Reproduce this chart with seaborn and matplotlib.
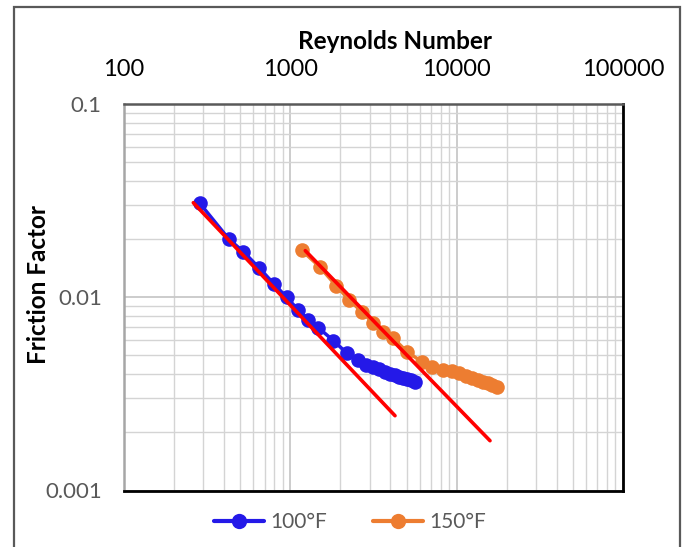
import numpy as np
import pandas as pd
import matplotlib
matplotlib.use("Agg")
import matplotlib.pyplot as plt
from matplotlib.ticker import FixedLocator, FixedFormatter, NullFormatter
from matplotlib.lines import Line2D
from matplotlib.patches import Rectangle
import seaborn as sns

# ---------------- data ----------------
re_100 = [286, 428, 522, 648, 801, 951, 1117, 1283, 1473, 1813, 2191, 2552,
          2851, 3141, 3413, 3709, 3974, 4259, 4501, 4757, 5028, 5314, 5616]
f_100 = [0.0306, 0.01995, 0.01721, 0.01422, 0.01167, 0.00999, 0.00859, 0.00762,
         0.00696, 0.00597, 0.00513, 0.00471, 0.00447, 0.00436, 0.00425, 0.00411,
         0.00403, 0.00394, 0.00388, 0.00381, 0.00376, 0.00371, 0.00366]

re_150 = [1175, 1498, 1882, 2253, 2686, 3141, 3622, 4160, 5028, 6164, 7079, 8312,
          9376, 10330, 11381, 12369, 13439, 14400, 15432, 16315, 17403]
f_150 = [0.01746, 0.01439, 0.0115, 0.00971, 0.00842, 0.00739, 0.00663, 0.00613,
         0.00523, 0.00464, 0.00437, 0.0042, 0.00416, 0.00404, 0.00392, 0.00382,
         0.00373, 0.00365, 0.00358, 0.00352, 0.00345]

# laminar fit lines (end points)
fit_100_re = [261, 4259]
fit_100_f = [0.03085, 0.002438]
fit_150_re = [1230, 15865]
fit_150_f = [0.01742, 0.00181]

series_names = ["100°F", "150°F"]
x_ticks = [100, 1000, 10000, 100000]
x_tick_labels = ["100", "1000", "10000", "100000"]
y_ticks = [0.001, 0.01, 0.1]
y_tick_labels = ["0.001", "0.01", "0.1"]
x_title = "Reynolds Number"
y_title = "Friction Factor"

# ---------------- styling ----------------
sns.set_style("white")
plt.rcParams["font.family"] = ["Lato", "DejaVu Sans"]

colors = {"100°F": "#2419E8", "150°F": "#ED7D31"}
red = "#FF0000"

df = pd.concat([
    pd.DataFrame({"Re": re_100, "f": f_100, "series": series_names[0]}),
    pd.DataFrame({"Re": re_150, "f": f_150, "series": series_names[1]}),
], ignore_index=True)

fit_df = pd.concat([
    pd.DataFrame({"Re": fit_100_re, "f": fit_100_f, "series": "fit100"}),
    pd.DataFrame({"Re": fit_150_re, "f": fit_150_f, "series": "fit150"}),
], ignore_index=True)

fig = plt.figure(figsize=(6.87, 5.47), dpi=100)
ax_left, ax_right, ax_top, ax_bottom = 124, 623, 104, 490.5
ax = fig.add_axes([ax_left / 687, 1 - ax_bottom / 547,
                   (ax_right - ax_left) / 687, (ax_bottom - ax_top) / 547])

ax.set_xscale("log")
ax.set_yscale("log")

sns.lineplot(data=df, x="Re", y="f", hue="series", palette=colors,
             marker="o", markersize=10.5, markeredgewidth=0, linewidth=2.5,
             sort=False, estimator=None, legend=False, ax=ax, zorder=3)
sns.lineplot(data=fit_df, x="Re", y="f", units="series", color=red,
             linewidth=2.6, sort=False, estimator=None, legend=False, ax=ax, zorder=4)

ax.set_xlim(100, 100000)
ax.set_ylim(0.001, 0.1)

# ticks and grid
ax.xaxis.set_major_locator(FixedLocator(x_ticks))
ax.xaxis.set_major_formatter(FixedFormatter(x_tick_labels))
ax.yaxis.set_major_locator(FixedLocator(y_ticks))
ax.yaxis.set_major_formatter(FixedFormatter(y_tick_labels))
minor_x = [m * 10 ** e for e in range(2, 5) for m in range(2, 10)]
minor_y = [m * 10.0 ** e for e in range(-3, -1) for m in range(2, 10)]
ax.xaxis.set_minor_locator(FixedLocator(minor_x))
ax.yaxis.set_minor_locator(FixedLocator(minor_y))
ax.xaxis.set_minor_formatter(NullFormatter())
ax.yaxis.set_minor_formatter(NullFormatter())

ax.grid(True, which="major", color="#c8c8c8", linewidth=1.3)
ax.grid(True, which="minor", color="#d4d4d4", linewidth=1.0)
ax.set_axisbelow(True)

ax.xaxis.tick_top()
ax.xaxis.set_label_position("top")
ax.tick_params(axis="x", which="both", length=0, pad=17, labelsize=17, labelcolor="black")
ax.tick_params(axis="y", which="both", length=0, pad=16, labelsize=16, labelcolor="#595959")

ax.set_xlabel(x_title, fontsize=17.5, fontweight="bold", color="black")
ax.set_ylabel(y_title, fontsize=17.5, fontweight="bold", color="black")
h = ax_bottom - ax_top
w = ax_right - ax_left
ax.xaxis.set_label_coords((395 - ax_left) / w, (ax_bottom - 41) / h)
ax.xaxis.label.set_va("center")
ax.yaxis.set_label_coords((38 - ax_left) / w, (ax_bottom - 284) / h)
ax.yaxis.label.set_va("center")

ax.spines["top"].set_color("#595959")
ax.spines["top"].set_linewidth(1.8)
ax.spines["left"].set_color("#a6a6a6")
ax.spines["left"].set_linewidth(1.8)
ax.spines["bottom"].set_color("black")
ax.spines["bottom"].set_linewidth(2.0)
ax.spines["right"].set_color("black")
ax.spines["right"].set_linewidth(2.0)

# legend
handles = [Line2D([0], [0], color=colors[n], marker="o", markersize=11,
                  markeredgewidth=0, linewidth=3) for n in series_names]
leg = fig.legend(handles, series_names, loc="center",
                 bbox_to_anchor=(350 / 687, 1 - 522 / 547), ncol=2, frameon=False,
                 fontsize=15, handlelength=2.4, columnspacing=2.2, handletextpad=0.3)
for t in leg.get_texts():
    t.set_color("#595959")

# chart border (bottom edge falls outside the image)
fig.patches.append(Rectangle((14 / 687, -0.05), (680 - 14) / 687, 1.05 - 7 / 547,
                             transform=fig.transFigure, fill=False,
                             edgecolor="#595959", linewidth=1.6))

fig.savefig("out.png", dpi=100)
